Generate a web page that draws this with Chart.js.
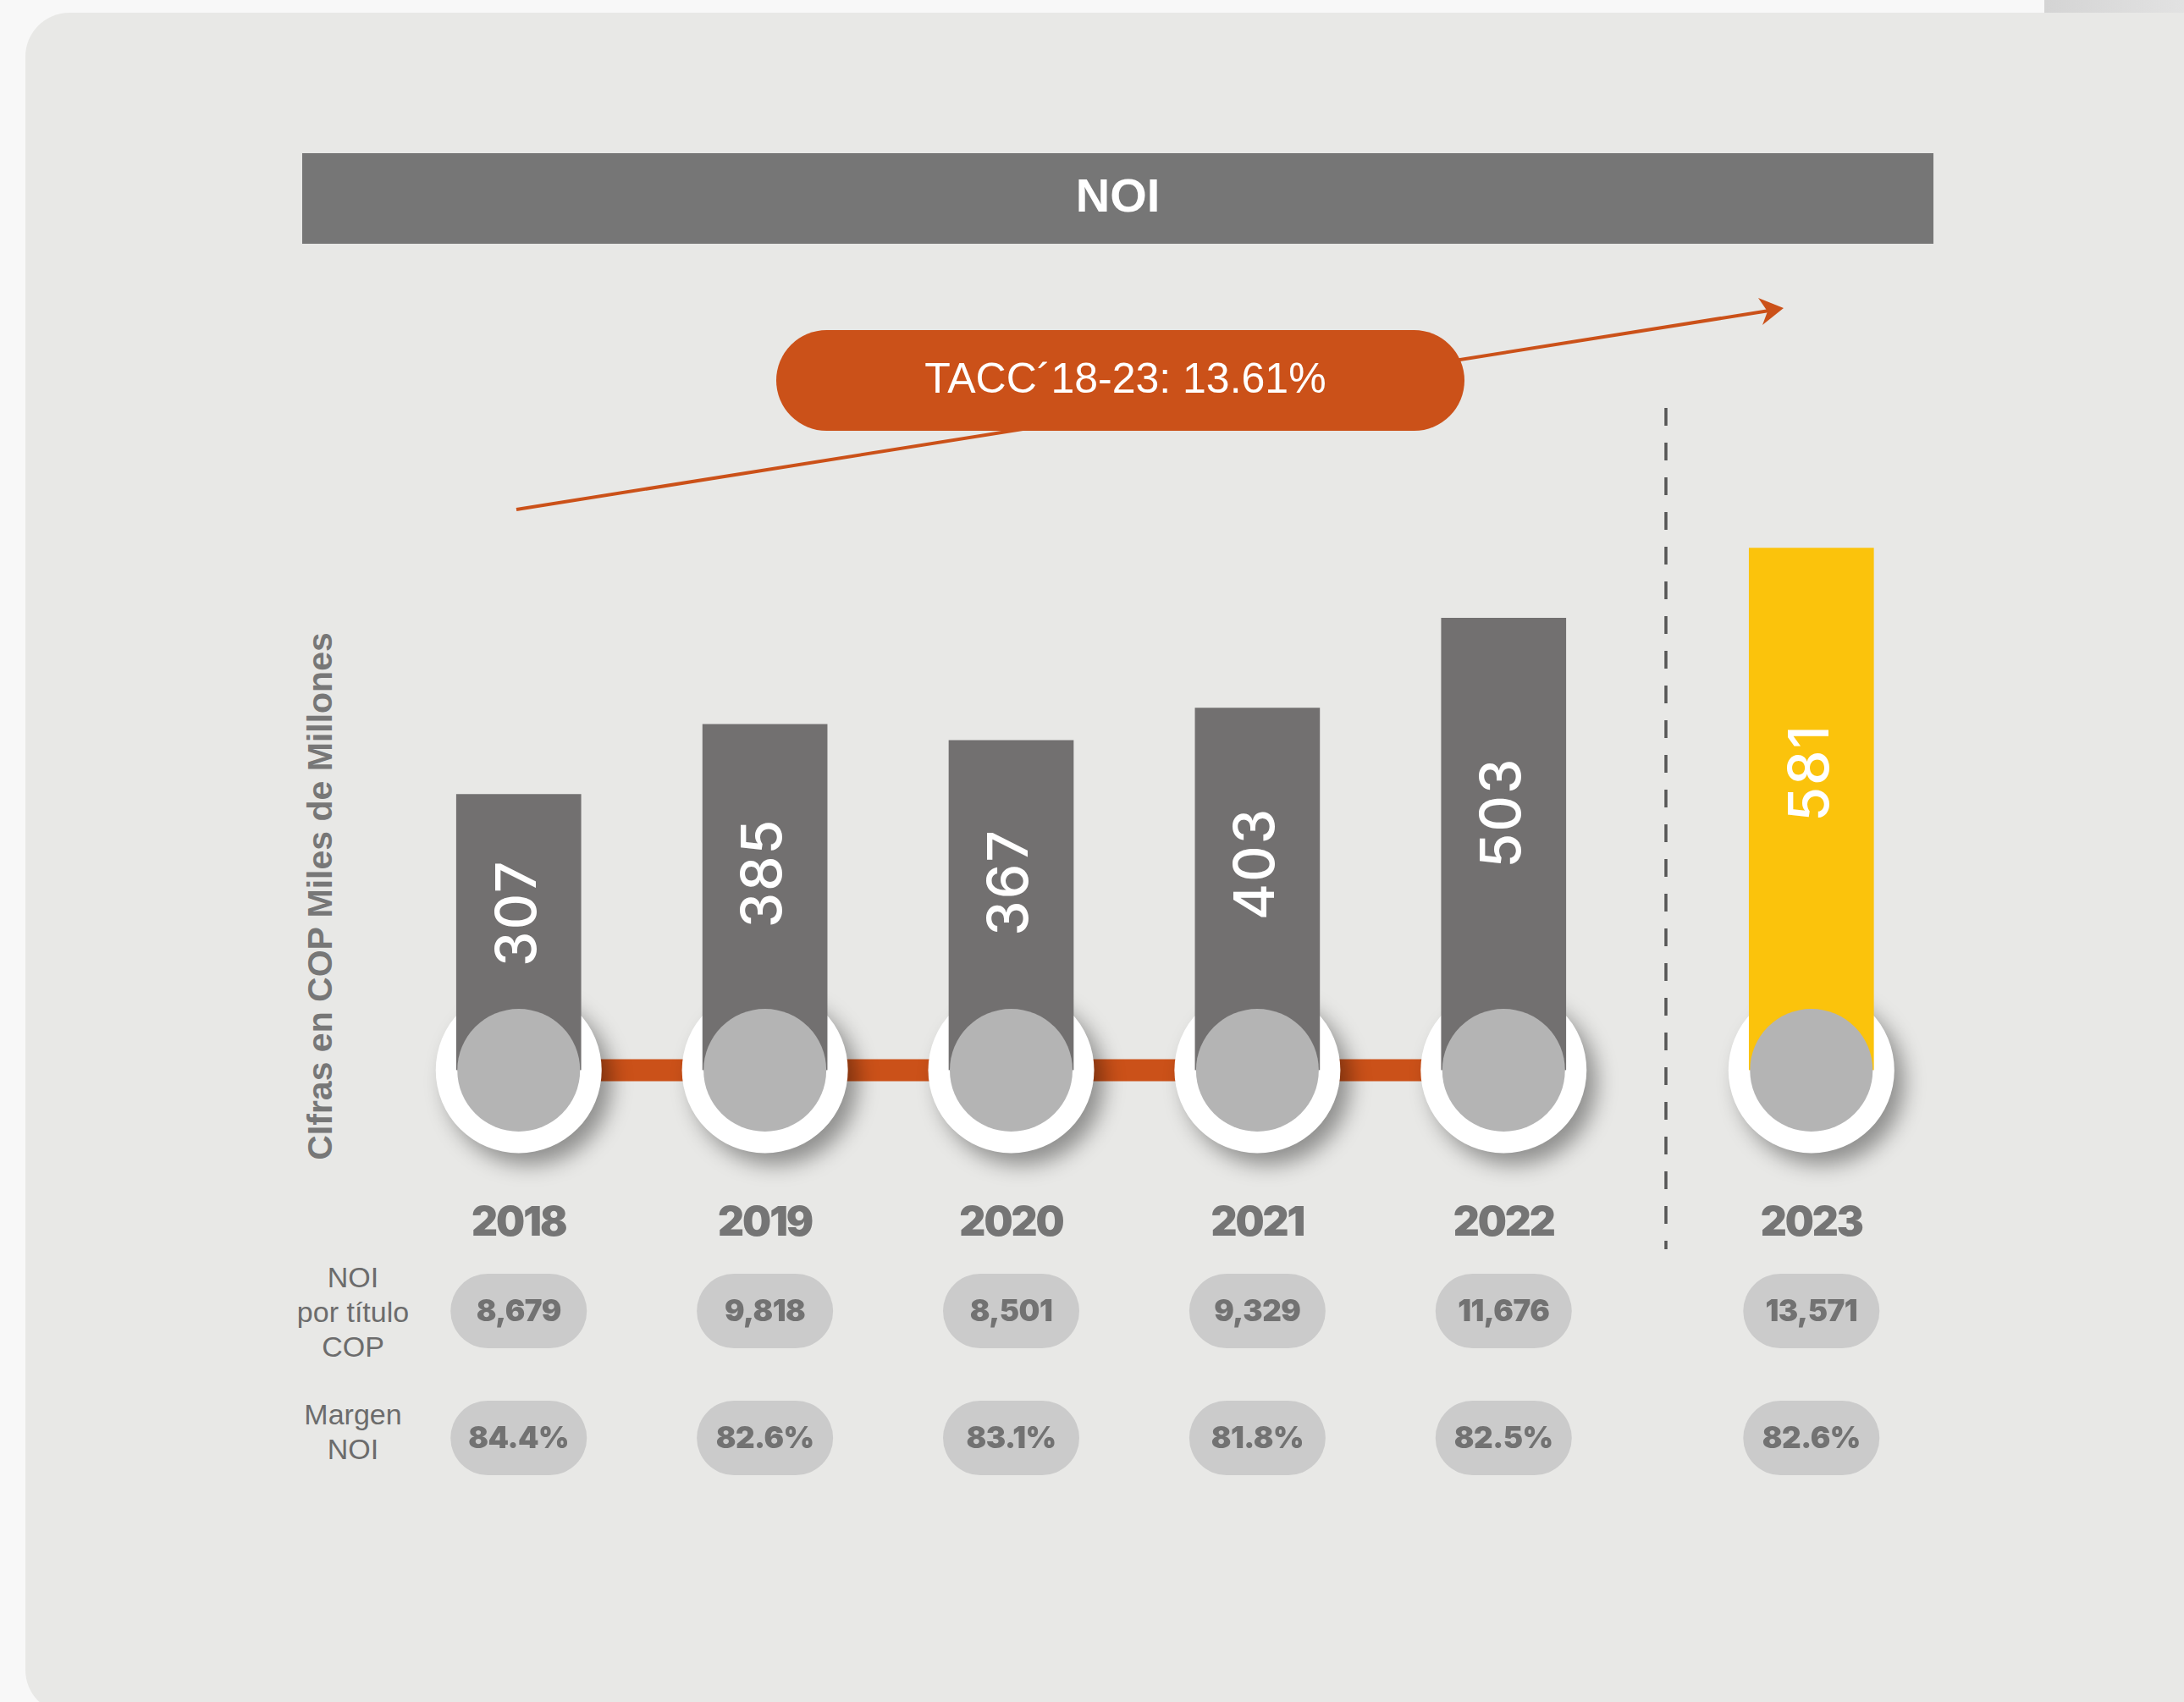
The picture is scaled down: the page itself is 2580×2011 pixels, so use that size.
<!DOCTYPE html>
<html>
<head>
<meta charset="utf-8">
<script src="https://cdn.jsdelivr.net/npm/chart.js@4.4.1/dist/chart.umd.min.js"></script>
<style>
html,body{margin:0;padding:0;width:2580px;height:2011px;overflow:hidden;background:#f8f8f8;}
#panel{position:absolute;left:30px;top:15px;width:2600px;height:2010px;background:#e8e8e6;border-radius:52px;}
#tr{position:absolute;left:2415px;top:0;width:165px;height:15px;background:linear-gradient(90deg,#d4d4d4,#e2e2e2);}
#title{position:absolute;left:357px;top:181px;width:1927px;height:107px;background:#767676;color:#fff;
  font:700 56px 'Liberation Sans',Arial,sans-serif;display:flex;align-items:center;justify-content:center;}
#title span{position:relative;top:-4px;}
#deco{position:absolute;left:0;top:0;}
#tacc{position:absolute;left:917px;top:390px;width:813px;height:119px;border-radius:60px;background:#cb5119;color:#fff;
  font:400 50px 'Liberation Sans',Arial,sans-serif;display:flex;align-items:center;justify-content:center;}
#tacc span{position:relative;top:-3px;left:6px;}
canvas{position:absolute;left:0;top:0;}
#ytitle{position:absolute;left:378px;top:1059px;transform:translate(-50%,-50%) rotate(-90deg);white-space:nowrap;
  font:700 41px 'Liberation Sans',Arial,sans-serif;color:#777777;}
.rowlab{position:absolute;width:240px;left:297px;text-align:center;font:400 34px 'Liberation Sans',Arial,sans-serif;
  line-height:41px;color:#6c6c6c;}
</style>
</head>
<body>
<div id="panel"></div>
<div id="tr"></div>
<div id="title"><span>NOI</span></div>
<svg id="deco" width="2580" height="2011">
  <line x1="610" y1="602" x2="2090" y2="367" stroke="#cb5119" stroke-width="4"/>
  <polygon points="2107,364 2077,352 2088,368 2082,384" fill="#cb5119"/>
  <line x1="1968" y1="482" x2="1968" y2="1476" stroke="#555555" stroke-width="3.5" stroke-dasharray="21,20"/>
</svg>
<div id="tacc"><span>TACC´18-23: 13.61%</span></div>
<div id="ytitle">CIfras en COP Miles de Millones</div>
<div class="rowlab" style="top:1489px">NOI<br>por título<br>COP</div>
<div class="rowlab" style="top:1651px">Margen<br>NOI</div>
<canvas id="c1" width="2580" height="2011"></canvas>
<canvas id="c2" width="2580" height="2011"></canvas>
<script>
// ---- data ----
const years = ['2018', '2019', '2020', '2021', '2022', '2023'];
const noi = [307, 385, 367, 403, 503, 581];            // NOI, COP miles de millones
const noiPorTitulo = [8679, 9818, 8501, 9329, 11676, 13571];
const margenNoi = [84.4, 82.6, 83.1, 81.8, 82.5, 82.6];
const barColors = ['#727070', '#727070', '#727070', '#727070', '#727070', '#fbc30c'];
const histCount = 5; // 2018-2022 historical, 2023 separated

// ---- layout constants ----
const Y_MAX = 800;
const Y_ZERO = 1264.5;
const PX_PER_UNIT = 1.0618;
const PAD_TOP = Y_ZERO - Y_MAX * PX_PER_UNIT;
const PAD_BOTTOM = 2011 - Y_ZERO;

function decoPlugin(from) {
  return {
    id: 'deco' + from,
    beforeDatasetsDraw(chart) {
      const ctx = chart.ctx;
      const pts = chart.getDatasetMeta(0).data;
      const y0 = chart.scales.y.getPixelForValue(0);
      if (pts.length > 1) {
        ctx.save();
        ctx.strokeStyle = '#cb5119';
        ctx.lineWidth = 26;
        ctx.beginPath();
        ctx.moveTo(pts[0].x, y0);
        ctx.lineTo(pts[pts.length - 1].x, y0);
        ctx.stroke();
        ctx.restore();
      }
      pts.forEach(p => {
        ctx.save();
        ctx.shadowColor = 'rgba(0,0,0,0.38)';
        ctx.shadowBlur = 24;
        ctx.shadowOffsetX = 12;
        ctx.shadowOffsetY = 14;
        ctx.fillStyle = '#ffffff';
        ctx.beginPath();
        ctx.arc(p.x, y0, 98, 0, Math.PI * 2);
        ctx.fill();
        ctx.restore();
      });
    },
    afterDatasetsDraw(chart) {
      const ctx = chart.ctx;
      const pts = chart.getDatasetMeta(0).data;
      const y0 = chart.scales.y.getPixelForValue(0);
      const vals = chart.data.datasets[0].data;
      pts.forEach((p, i) => {
        const idx = from + i;
        // inner circle
        ctx.save();
        ctx.fillStyle = '#b4b4b4';
        ctx.beginPath();
        ctx.arc(p.x, y0, 72.5, 0, Math.PI * 2);
        ctx.fill();
        ctx.restore();
        // rotated value
        const cy = p.y + 0.43 * (p.base - p.y);
        ctx.save();
        ctx.translate(p.x, cy);
        ctx.rotate(-Math.PI / 2);
        ctx.fillStyle = '#ffffff';
        ctx.font = '500 66px Inter, "Noto Sans", sans-serif';
        ctx.textAlign = 'center';
        ctx.textBaseline = 'middle';
        ctx.letterSpacing = '2px';
        ctx.fillText(String(vals[i]), 0, 0);
        ctx.restore();
        // year label
        ctx.save();
        ctx.fillStyle = '#757575';
        ctx.font = '900 48px Inter, "Noto Sans", sans-serif';
        ctx.textAlign = 'center';
        ctx.textBaseline = 'middle';
        ctx.letterSpacing = '-2px';
        ctx.fillText(chart.data.labels[i], p.x, y0 + 181);
        ctx.restore();
        // pills
        const rows = [
          { y: y0 + 284.5, t: noiPorTitulo[idx].toLocaleString('en-US') },
          { y: y0 + 434.5, t: margenNoi[idx].toFixed(1) + '%' }
        ];
        rows.forEach(r => {
          ctx.save();
          ctx.fillStyle = '#cbcbcb';
          ctx.beginPath();
          ctx.roundRect(p.x - 80.5, r.y - 44, 161, 88, 44);
          ctx.fill();
          ctx.fillStyle = '#727272';
          ctx.font = '900 35px Inter, "Noto Sans", sans-serif';
          ctx.textAlign = 'center';
          ctx.textBaseline = 'middle';
          ctx.letterSpacing = '-0.5px';
          ctx.fillText(r.t, p.x, r.y + 1);
          ctx.restore();
        });
      });
    }
  };
}

function makeChart(id, from, to, padL, padR) {
  return new Chart(document.getElementById(id), {
    type: 'bar',
    data: {
      labels: years.slice(from, to),
      datasets: [{
        data: noi.slice(from, to),
        backgroundColor: barColors.slice(from, to),
        borderWidth: 0,
        barThickness: 147
      }]
    },
    options: {
      responsive: false,
      devicePixelRatio: 1,
      animation: false,
      events: [],
      layout: { padding: { left: padL, right: padR, top: PAD_TOP, bottom: PAD_BOTTOM } },
      plugins: { legend: { display: false }, tooltip: { enabled: false } },
      scales: {
        x: { display: false, offset: true },
        y: { display: false, min: 0, max: Y_MAX }
      }
    },
    plugins: [decoPlugin(from)]
  });
}

makeChart('c1', 0, histCount, 467.3, 2580 - 1921.7);
makeChart('c2', histCount, years.length, 1994.8, 2580 - 2284.8);
</script>
</body>
</html>
